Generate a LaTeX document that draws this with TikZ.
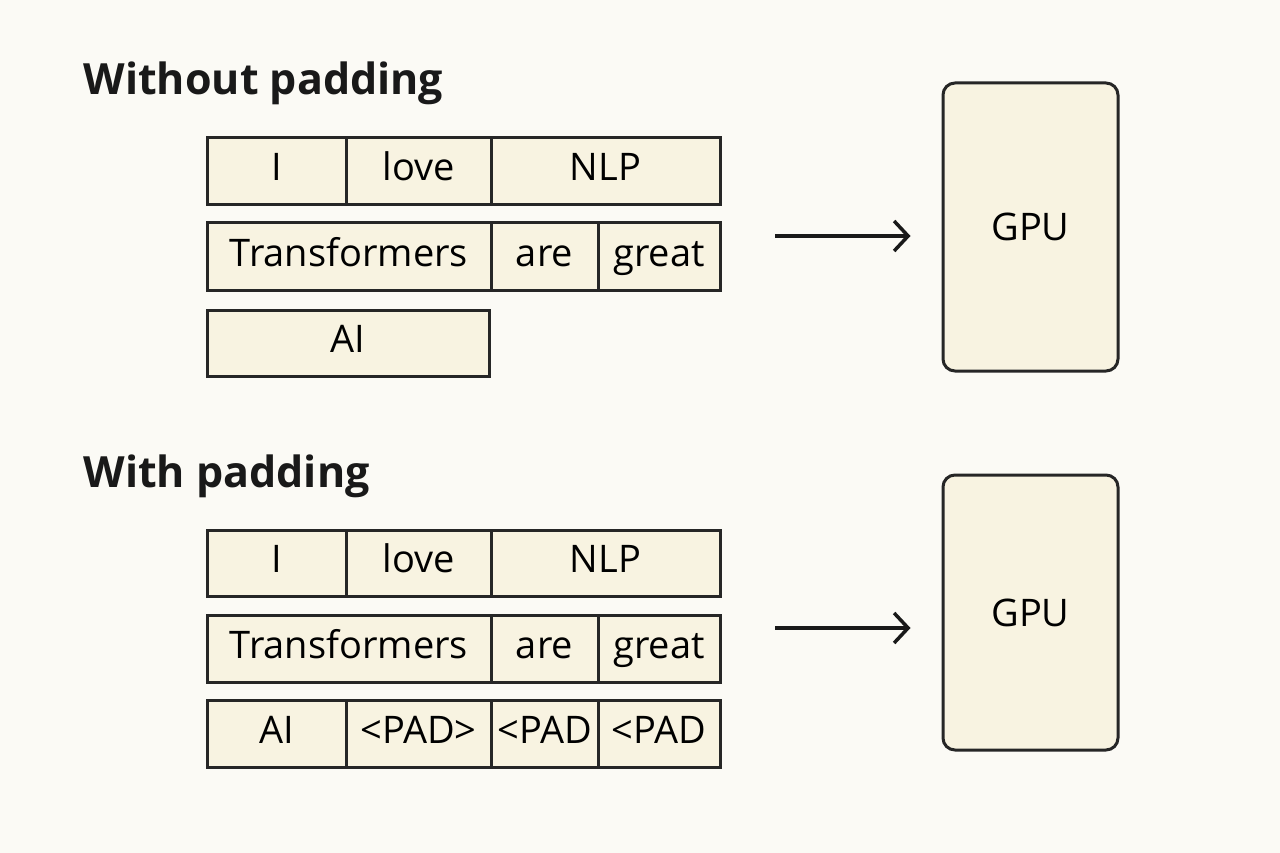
\documentclass[tikz,border=0pt]{standalone}
\usepackage{fontspec}
\setmainfont{Open Sans}
\usetikzlibrary{arrows.meta}
\begin{document}
\begin{tikzpicture}[x=1pt,y=-1pt,
  cell/.style={draw=black!85,line width=3pt,fill=cellfill,inner sep=0pt,text height=27pt,text depth=8pt,font=\fontsize{38}{40}\selectfont},
  gpu/.style={draw=black!85,line width=3pt,fill=cellfill,rounded corners=12pt,inner sep=0pt,font=\fontsize{38}{40}\selectfont},
  title/.style={anchor=base west,font=\fontsize{43}{46}\selectfont\bfseries,text=black!90},
  arr/.style={-{Straight Barb[length=14pt,width=30pt,line width=3.5pt]},line width=3.5pt,draw=black!90}]
\definecolor{cellfill}{HTML}{F8F3E1}
\definecolor{bg}{HTML}{FBFAF5}
\fill[bg] (0,0) rectangle (1280,853);
\useasboundingbox (0,0) rectangle (1280,853);
\newcommand{\cellat}[6]{\node[cell,minimum width=#3-#2,minimum height=#5-#4] (#1) at ({(#2+#3)/2},{(#4+#5)/2}) {#6};}
\node[title] (t1) at (80,95) {Without padding};
\cellat{a1}{207}{346}{138}{205}{I}
\cellat{a2}{346}{491}{138}{205}{love}
\cellat{a3}{491}{720}{138}{205}{NLP}
\cellat{b1}{207}{491}{223}{290}{Transformers}
\cellat{b2}{491}{598}{223}{290}{are}
\cellat{b3}{598}{720}{223}{290}{great}
\cellat{c1}{207}{489}{310}{376}{AI}
\node[gpu,minimum width=175,minimum height=288] (g1) at (1030.5,227) {GPU};
\coordinate (s1) at (775,236);
\draw[arr,shorten >=31pt] (s1) -- (s1 -| g1.west);
\node[title] (t2) at (80,487) {With padding};
\cellat{d1}{207}{346}{530}{596}{I}
\cellat{d2}{346}{491}{530}{596}{love}
\cellat{d3}{491}{720}{530}{596}{NLP}
\cellat{e1}{207}{491}{615}{682}{Transformers}
\cellat{e2}{491}{598}{615}{682}{are}
\cellat{e3}{598}{720}{615}{682}{great}
\cellat{f1}{207}{346}{700}{767}{AI}
\cellat{f2}{346}{491}{700}{767}{<PAD>}
\cellat{f3}{491}{598}{700}{767}{<PAD}
\cellat{f4}{598}{720}{700}{767}{<PAD}
\node[gpu,minimum width=175,minimum height=275] (g2) at (1030.5,612.5) {GPU};
\coordinate (s2) at (775,628);
\draw[arr,shorten >=31pt] (s2) -- (s2 -| g2.west);
\end{tikzpicture}
\end{document}
